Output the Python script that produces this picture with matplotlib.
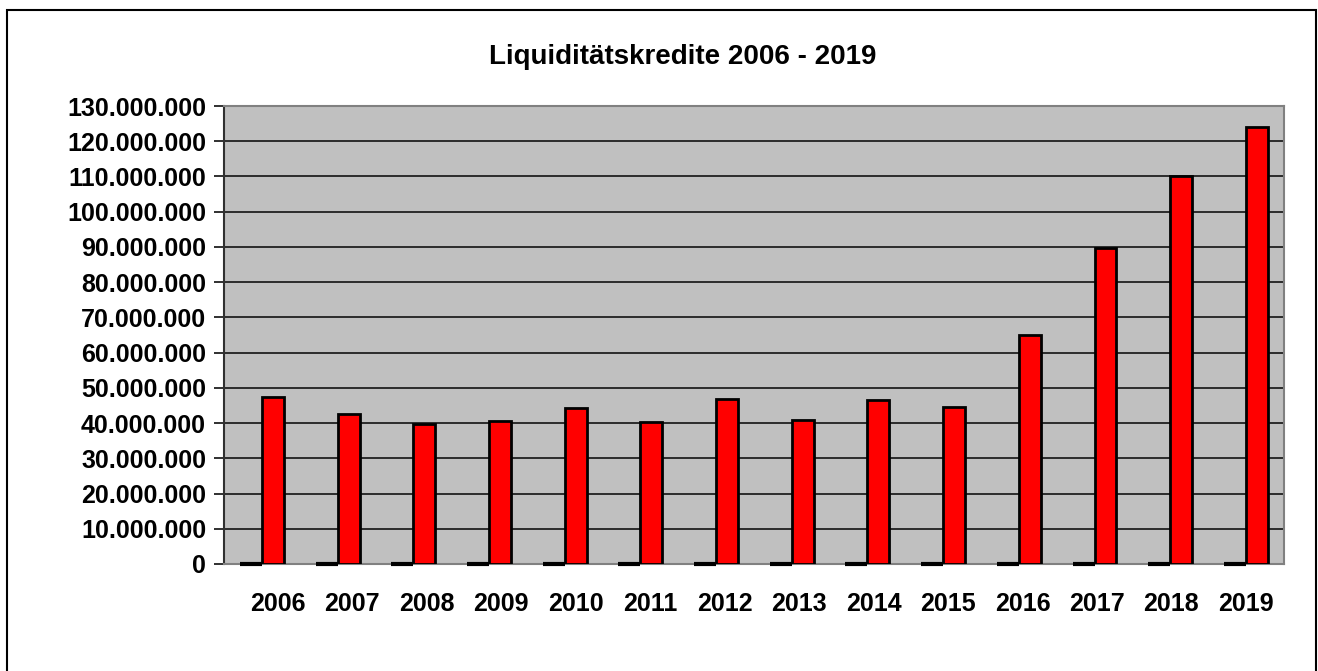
import matplotlib.pyplot as plt
import matplotlib.ticker as mticker
from matplotlib.patches import Rectangle
import numpy as np

# data
years = ['2006', '2007', '2008', '2009', '2010', '2011', '2012',
         '2013', '2014', '2015', '2016', '2017', '2018', '2019']
kredite = [47.4e6, 42.6e6, 39.7e6, 40.6e6, 44.3e6, 40.3e6, 46.8e6,
           40.9e6, 46.6e6, 44.6e6, 65.0e6, 89.7e6, 110.1e6, 124.0e6]
leer = [0] * len(years)  # second series, all zero

plt.rcParams['font.family'] = ['Liberation Sans', 'DejaVu Sans']
plt.rcParams['font.weight'] = 'bold'

fig = plt.figure(figsize=(13.18, 6.71), dpi=100)
ax = fig.add_axes([0.170, 0.1595, 0.804, 0.6825])

# outer frame of the chart area
fig.patches.append(Rectangle((7 / 1318, -0.05), 1309 / 1318, 1.0 - 10 / 671 + 0.05,
                             transform=fig.transFigure, fill=False,
                             edgecolor='black', linewidth=1.5))

x = np.arange(len(years))
w = 0.29
ax.bar(x - w / 2, leer, w, color='red', edgecolor='black', linewidth=3,
       zorder=3, clip_on=False)
ax.bar(x + w / 2, kredite, w, color='red', edgecolor='black', linewidth=2, zorder=3)

ax.set_facecolor('#c0c0c0')
ax.set_xlim(-0.5, len(years) - 0.5)
ax.set_ylim(0, 130e6)
ax.yaxis.set_major_locator(mticker.MultipleLocator(10e6))
ax.yaxis.set_major_formatter(mticker.FuncFormatter(
    lambda v, p: f'{int(round(v)):,}'.replace(',', '.')))
ax.grid(axis='y', color='#202020', linewidth=1.3, zorder=1)
ax.set_axisbelow(True)

# labels in the original sit slightly right of the category centres
ax.set_xticks(0.21 + x * (12.79 / 13))
ax.set_xticklabels(years)
ax.tick_params(axis='x', length=0, pad=20, labelsize=18)
ax.tick_params(axis='y', length=7, width=1.3, color='#202020', pad=6, labelsize=18)

for side in ['top', 'right', 'bottom']:
    ax.spines[side].set_color('#808080')
    ax.spines[side].set_linewidth(1.5)
ax.spines['left'].set_color('#303030')
ax.spines['left'].set_linewidth(1.5)

fig.text(0.518, 0.915, 'Liquiditätskredite 2006 - 2019', ha='center', va='center',
         fontsize=20, fontweight='bold')

fig.savefig('out.png', dpi=100)
